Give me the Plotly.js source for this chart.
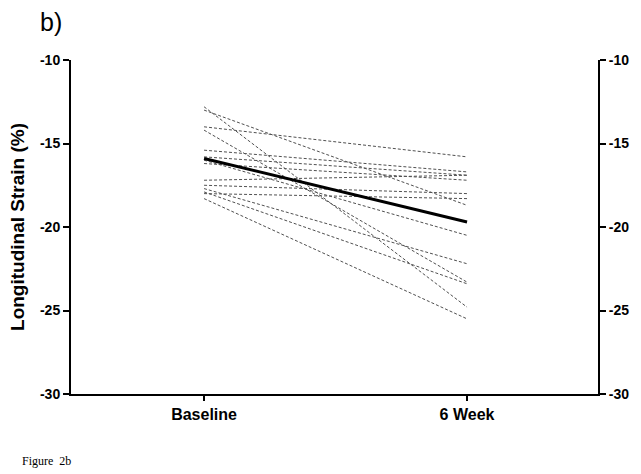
<!DOCTYPE html>
<html>
<head>
<meta charset="utf-8">
<script src="https://cdn.plot.ly/plotly-3.0.1.min.js"></script>
<style>html,body{margin:0;padding:0;background:#fff;}#chart{width:641px;height:474px;}</style>
</head>
<body>
<div id="chart"></div>
<script>
var categories = ["Baseline", "6 Week"];
var categoryPos = [0, 1];
var baseline = [-12.8, -13.0, -14.0, -14.2, -15.4, -15.8, -16.0, -16.2, -17.2, -17.5, -17.7, -18.0, -18.3, -17.9];
var week6    = [-24.8, -18.7, -15.8, -23.3, -16.7, -16.9, -20.5, -17.2, -16.9, -18.0, -22.2, -18.3, -25.5, -23.4];
var meanValues = [-15.9, -19.7];
var yTicks = [-10, -15, -20, -25, -30];

var traces = [];
for (var i = 0; i < baseline.length; i++) {
  traces.push({
    x: categoryPos, y: [baseline[i], week6[i]], type: 'scatter', mode: 'lines',
    line: {color: '#505050', width: 1, dash: '3px,2px'}, hoverinfo: 'skip', showlegend: false
  });
}
traces.push({
  x: categoryPos, y: meanValues, type: 'scatter', mode: 'lines',
  line: {color: '#000000', width: 3}, showlegend: false
});
traces.push({
  x: categoryPos, y: meanValues, type: 'scatter', mode: 'lines', yaxis: 'y2',
  line: {color: 'rgba(0,0,0,0)', width: 0}, hoverinfo: 'skip', showlegend: false
});

var tickFont = {family: 'Liberation Sans, Arial, sans-serif', size: 14, color: '#000', weight: 'bold'};
var yCommon = {
  range: [-30, -10], tickvals: yTicks, ticktext: yTicks.map(String),
  showgrid: false, zeroline: false, showline: true, linecolor: '#000', linewidth: 2,
  ticks: 'outside', ticklen: 6, tickwidth: 2, tickcolor: '#000', tickfont: tickFont
};

var layout = {
  width: 641, height: 474,
  margin: {l: 71, r: 43, t: 60, b: 80},
  paper_bgcolor: '#fff', plot_bgcolor: '#fff',
  showlegend: false,
  xaxis: {
    range: [-0.506, 1.498], tickvals: categoryPos, ticktext: categories,
    showgrid: false, zeroline: false, showline: true, linecolor: '#000', linewidth: 2,
    ticks: 'outside', ticklen: 5, tickwidth: 2, tickcolor: '#000',
    tickfont: {family: 'Liberation Sans, Arial, sans-serif', size: 16, color: '#000', weight: 'bold'}
  },
  yaxis: Object.assign({}, yCommon, {
    title: {text: 'Longitudinal Strain (%)', standoff: 10,
      font: {family: 'Liberation Sans, Arial, sans-serif', size: 19, color: '#000', weight: 'bold'}}
  }),
  yaxis2: Object.assign({}, yCommon, {overlaying: 'y', side: 'right'}),
  annotations: [
    {text: 'b)', xref: 'paper', yref: 'paper', x: -0.062, y: 1.114, xanchor: 'left', yanchor: 'middle',
     showarrow: false, font: {family: 'Liberation Sans, Arial, sans-serif', size: 25, color: '#000'}},
    {text: 'Figure  2b', xref: 'paper', yref: 'paper', x: -0.097, y: -0.2, xanchor: 'left', yanchor: 'middle',
     showarrow: false, font: {family: 'Liberation Serif, Times New Roman, serif', size: 12, color: '#000'}}
  ]
};

Plotly.newPlot('chart', traces, layout, {displayModeBar: false, staticPlot: true});
</script>
</body>
</html>
